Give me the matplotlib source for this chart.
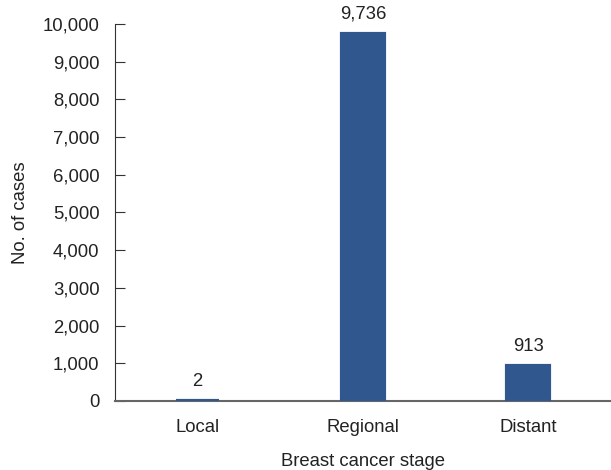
import matplotlib.pyplot as plt
from matplotlib.ticker import FuncFormatter

plt.rcParams['font.family'] = ['Liberation Sans', 'DejaVu Sans']

# Data
stages = ['Local', 'Regional', 'Distant']
cases = [2, 9736, 913]
yticks = list(range(0, 10001, 1000))

fs = 13.3
txt = '#222222'

fig = plt.figure(figsize=(6.11, 4.70), dpi=100)
ax = fig.add_axes([0.188, 0.147, 0.812, 0.802])

# edge keeps the tiny "Local" bar visible above the axis line
bars = ax.bar(range(len(stages)), cases, width=0.255, color='#30588f',
              edgecolor='#30588f', linewidth=3, zorder=3)
ax.bar_label(bars, labels=['{:,}'.format(v) for v in cases], padding=8,
             fontsize=fs, color=txt)

ax.set_xlim(-0.5, 2.5)
ax.set_ylim(0, 10000)
ax.set_yticks(yticks)
ax.yaxis.set_major_formatter(FuncFormatter(lambda v, p: '{:,.0f}'.format(v)))
ax.set_xticks(range(len(stages)))
ax.set_xticklabels(stages)

ax.spines['top'].set_visible(False)
ax.spines['right'].set_visible(False)
ax.spines['left'].set_color('#333333')
ax.spines['bottom'].set_color('#666666')
ax.spines['bottom'].set_linewidth(1.5)
ax.tick_params(axis='y', direction='in', length=7, color='#333333',
               labelsize=fs, labelcolor=txt, pad=11)
ax.tick_params(axis='x', length=0, labelsize=fs, labelcolor=txt, pad=13)

ax.set_ylabel('No. of cases', fontsize=fs, color=txt, labelpad=10)
ax.set_xlabel('Breast cancer stage', fontsize=fs, color=txt, labelpad=12)

fig.savefig('out.png', dpi=100)
